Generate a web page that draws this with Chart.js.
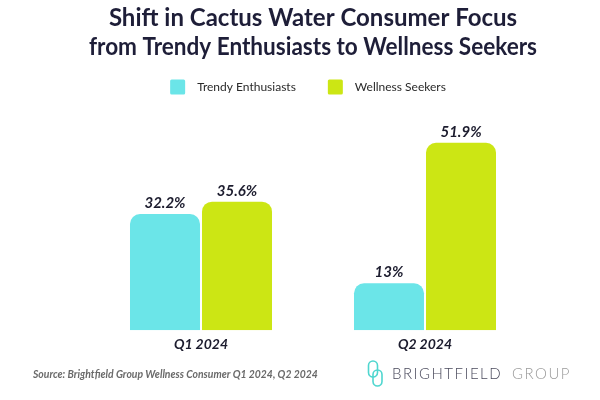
<!DOCTYPE html>
<html lang="en">
<head>
<meta charset="UTF-8">
<title>Cactus Water Consumer Focus</title>
<script src="https://cdn.jsdelivr.net/npm/chart.js"></script>
<style>
  html, body { margin: 0; padding: 0; background: #fff; }
  #box { width: 600px; height: 400px; }
</style>
</head>
<body>
<div id="box"><canvas id="grafico"></canvas></div>
<script>
// data
const periodos = ["Q1 2024", "Q2 2024"];
const trendy = [32.2, 13];
const wellness = [35.6, 51.9];
const rotulosTrendy = ["32.2%", "13%"];
const rotulosWellness = ["35.6%", "51.9%"];

const corTrendy = "#6be5e8";
const corWellness = "#cce614";

// write the value above each bar
const rotulosPlugin = {
  id: "rotulos",
  afterDatasetsDraw(chart) {
    const ctx = chart.ctx;
    const textos = [rotulosTrendy, rotulosWellness];
    ctx.save();
    ctx.font = "italic bold 15px Lato";
    ctx.fillStyle = "#1c1c2e";
    ctx.textAlign = "center";
    ctx.textBaseline = "middle";
    chart.data.datasets.forEach((ds, i) => {
      chart.getDatasetMeta(i).data.forEach((bar, j) => {
        ctx.fillText(textos[i][j], bar.x, bar.y - 11);
      });
    });
    ctx.restore();
  }
};

// legend drawn by hand (box, gap, text)
const legendaPlugin = {
  id: "legenda",
  afterDraw(chart) {
    const ctx = chart.ctx;
    ctx.save();
    ctx.font = "12px Lato";
    ctx.textBaseline = "middle";
    const itens = chart.data.datasets.map(ds => ({
      texto: ds.label, cor: ds.backgroundColor, w: 15 + 12 + ctx.measureText(ds.label).width
    }));
    const espaco = 32;
    let total = itens.reduce((s, it) => s + it.w, 0) + espaco * (itens.length - 1);
    let x = 308 - total / 2;
    const y = 87;
    itens.forEach(it => {
      ctx.fillStyle = it.cor;
      ctx.beginPath();
      ctx.roundRect(x, y - 7.5, 15, 15, 1.5);
      ctx.fill();
      ctx.fillStyle = "#2a2a2a";
      ctx.fillText(it.texto, x + 27, y);
      x += it.w + espaco;
    });
    ctx.restore();
  }
};

// source note + logo at the bottom
const rodapePlugin = {
  id: "rodape",
  afterDraw(chart) {
    const ctx = chart.ctx;
    ctx.save();
    ctx.font = "italic bold 10.4px Lato";
    ctx.fillStyle = "#6a6a6a";
    ctx.textBaseline = "middle";
    ctx.fillText("Source: Brightfield Group Wellness Consumer Q1 2024, Q2 2024", 33, 375);

    // icon
    ctx.strokeStyle = "#4fd6cf";
    ctx.lineWidth = 1.6;
    ctx.beginPath();
    ctx.roundRect(368.5, 361, 9, 16, 4.5);
    ctx.stroke();
    ctx.beginPath();
    ctx.roundRect(373, 370, 9, 16, 4.5);
    ctx.stroke();

    ctx.font = "300 15px Lato";
    ctx.letterSpacing = "1.5px";
    ctx.fillStyle = "#4a4a5c";
    ctx.fillText("BRIGHTFIELD", 392, 374);
    ctx.fillStyle = "#9a9a9a";
    ctx.fillText("GROUP", 512, 374);
    ctx.restore();
  }
};

const ctx = document.getElementById("grafico");

new Chart(ctx, {
  type: "bar",
  data: {
    labels: periodos,
    datasets: [
      {
        label: "Trendy Enthusiasts",
        data: trendy,
        backgroundColor: corTrendy,
        borderRadius: { topLeft: 10, topRight: 10 },
        borderSkipped: "bottom"
      },
      {
        label: "Wellness Seekers",
        data: wellness,
        backgroundColor: corWellness,
        borderRadius: { topLeft: 10, topRight: 10 },
        borderSkipped: "bottom"
      }
    ]
  },
  options: {
    responsive: true,
    maintainAspectRatio: false,
    animation: false,
    datasets: {
      bar: { categoryPercentage: 0.643, barPercentage: 0.972 }
    },
    layout: { padding: { left: 89, right: 63, top: 4, bottom: 41 } },
    plugins: {
      title: {
        display: true,
        text: ["Shift in Cactus Water Consumer Focus", "from Trendy Enthusiasts to Wellness Seekers"],
        font: { family: "Lato", size: 24, weight: "bold" },
        color: "#1e1e38",
        padding: { top: 0, bottom: 52 },
        lineHeight: 1.17
      },
      legend: { display: false },
      tooltip: { enabled: false }
    },
    scales: {
      x: {
        grid: { display: false, drawTicks: false },
        border: { display: false },
        ticks: {
          font: { family: "Lato", size: 14, weight: "bold", style: "italic" },
          color: "#1c1c2e",
          padding: 6
        }
      },
      y: {
        display: false,
        min: 0,
        max: 60
      }
    }
  },
  plugins: [rotulosPlugin, legendaPlugin, rodapePlugin]
});
</script>
</body>
</html>
